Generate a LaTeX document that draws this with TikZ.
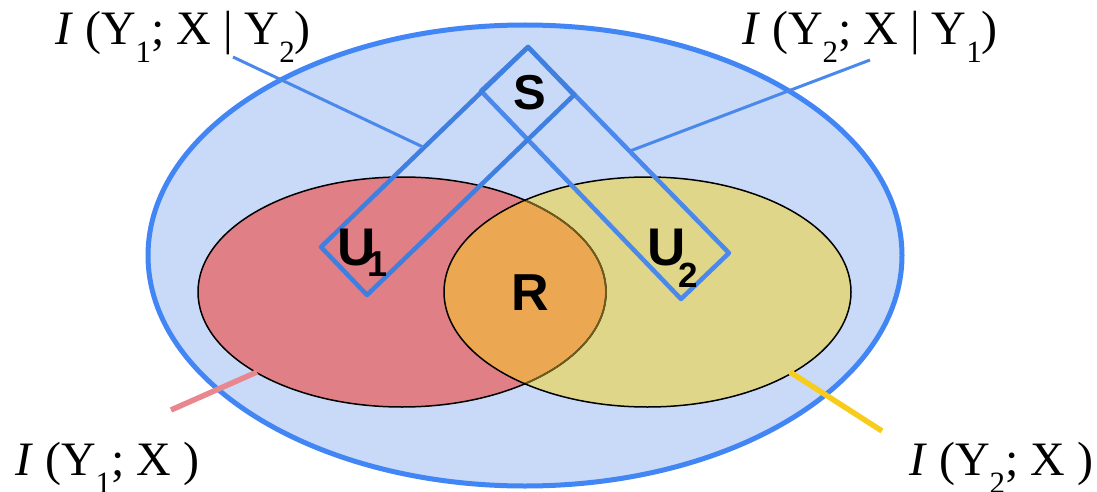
\documentclass[tikz,border=0pt]{standalone}
\usepackage{fontspec}
\setmainfont{Liberation Serif}
\newfontfamily\lsans{Liberation Sans}
\definecolor{bigfill}{HTML}{C9DAF8}
\definecolor{bigline}{HTML}{4285F4}
\definecolor{rectlineA}{HTML}{4A88EC}
\definecolor{rectlineB}{HTML}{3F7FE0}
\definecolor{redfill}{HTML}{E07F86}
\definecolor{yelfill}{HTML}{DFD68A}
\definecolor{lensfill}{HTML}{EBA751}
\definecolor{olive}{HTML}{6E5C1C}
\definecolor{pinkline}{HTML}{E8888E}
\definecolor{goldline}{HTML}{F8CC1B}
\newcommand\lsub[1]{\raisebox{-0.375em}{\fontsize{31}{31}\selectfont #1}}
\begin{document}
\begin{tikzpicture}[x=1pt,y=-1pt,
  lbl/.style={inner sep=0pt, anchor=base west, font=\fontsize{48}{50}\selectfont},
  letter/.style={inner sep=0pt, anchor=base, font=\lsans\bfseries},
  rectline/.style={line width=4.5pt, line join=round},
  leadblue/.style={draw=rectlineA, line width=3pt},
  leadthick/.style={line width=5.5pt}]
\useasboundingbox (0,0) rectangle (1097,492);
% big ellipse
\path[fill=bigfill, draw=bigline, line width=5pt] (525,255.5) ellipse [x radius=377pt, y radius=230.5pt];
% red and yellow ellipses
\path[fill=redfill] (402,292) ellipse [x radius=204pt, y radius=115pt];
\path[fill=yelfill] (647.5,292) ellipse [x radius=203.5pt, y radius=115pt];
\begin{scope}
  \clip (402,292) ellipse [x radius=204pt, y radius=115pt];
  \fill[lensfill] (647.5,292) ellipse [x radius=203.5pt, y radius=115pt];
\end{scope}
\draw[black, line width=1.5pt] (402,292) ellipse [x radius=204pt, y radius=115pt];
\begin{scope}
  \clip (647.5,292) ellipse [x radius=203.5pt, y radius=115pt];
  \draw[olive, line width=1.8pt] (402,292) ellipse [x radius=204pt, y radius=115pt];
\end{scope}
\draw[black, line width=1.5pt] (647.5,292) ellipse [x radius=203.5pt, y radius=115pt];
% rectangles
\coordinate (T) at (528,47);
\coordinate (B) at (574,95);
\coordinate (C) at (367,295);
\coordinate (D) at (321,247);
\coordinate (L) at (481,91);
\coordinate (BL) at (681,299);
\coordinate (BR) at (729,253);
\draw[rectline, draw=rectlineA] (T) -- (L) -- (BL) -- (BR) -- cycle;
\draw[rectline, draw=rectlineB] (T) -- (B) -- (C) -- (D) -- cycle;
% leader lines
\coordinate (tlA) at (233,57);
\coordinate (tlB) at (423,147);
\coordinate (trA) at (870,60);
\coordinate (trB) at (630,151);
\coordinate (blA) at (171,410);
\coordinate (blB) at (257,372);
\coordinate (brA) at (882,431);
\coordinate (brB) at (790,372);
\draw[leadblue] (tlA) -- (tlB);
\draw[leadblue] (trA) -- (trB);
\draw[leadthick, pinkline] (blA) -- (blB);
\draw[leadthick, goldline] (brA) -- (brB);
% labels
\node[lbl] (ltl) at (55,45) {\textit{I} (Y\lsub{1}; X | Y\lsub{2})};
\node[lbl] (ltr) at (742,45) {\textit{I} (Y\lsub{2}; X | Y\lsub{1})};
\node[lbl] (lbl1) at (15,475) {\textit{I} (Y\lsub{1}; X )};
\node[lbl] (lbr) at (909,475) {\textit{I} (Y\lsub{2}; X )};
% letters
\node[letter, font=\lsans\bfseries\fontsize{49}{49}\selectfont] (S) at (530,110) {S};
\node[letter, font=\lsans\bfseries\fontsize{53}{53}\selectfont] (U1) at (357,265) {U};
\node[letter, font=\lsans\bfseries\fontsize{36}{36}\selectfont] (U1s) at (378,276) {1};
\node[letter, font=\lsans\bfseries\fontsize{53}{53}\selectfont] (U2) at (667,265) {U};
\node[letter, font=\lsans\bfseries\fontsize{35}{35}\selectfont] (U2s) at (688.5,287) {2};
\node[letter, font=\lsans\bfseries\fontsize{52}{52}\selectfont] (R) at (530.5,310) {R};
\end{tikzpicture}
\end{document}
